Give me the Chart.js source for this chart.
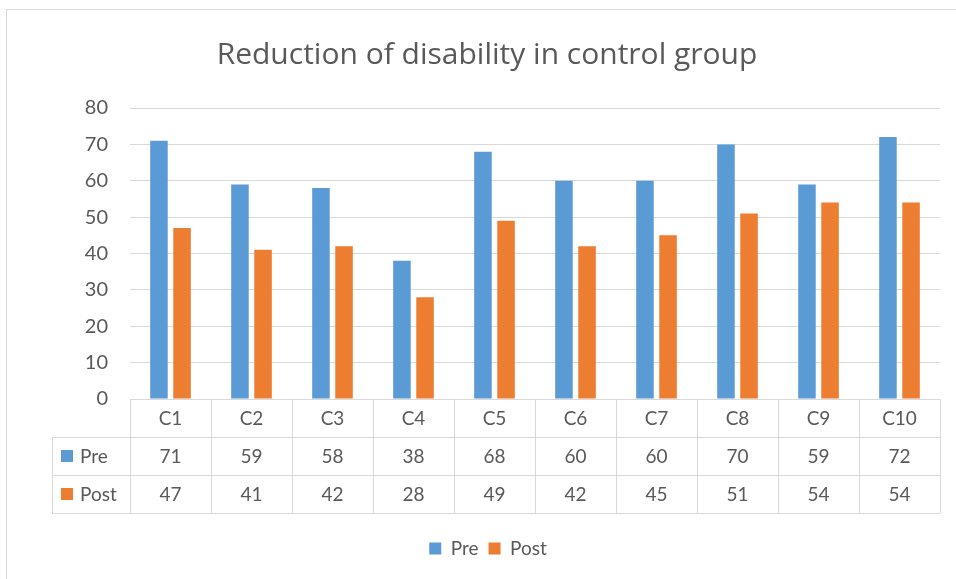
<!DOCTYPE html>
<html>
<head>
<meta charset="utf-8">
<script src="https://cdn.jsdelivr.net/npm/chart.js@4.4.1/dist/chart.umd.min.js"></script>
<style>
  html, body { margin: 0; padding: 0; background: #ffffff; }
  #wrap { position: relative; width: 956px; height: 579px; overflow: hidden; }
  #frame { position: absolute; left: 6px; top: 9px; width: 1000px; height: 1000px;
           border: 1px solid #d9d9d9; box-sizing: border-box; }
  #c { position: absolute; left: 0; top: 0; }
</style>
</head>
<body>
<div id="wrap">
  <div id="frame"></div>
  <canvas id="c" width="956" height="579"></canvas>
</div>
<script>
// Disability scores before and after, per control-group subject
const categories = ['C1', 'C2', 'C3', 'C4', 'C5', 'C6', 'C7', 'C8', 'C9', 'C10'];
const preValues  = [71, 59, 58, 38, 68, 60, 60, 70, 59, 72];
const postValues = [47, 41, 42, 28, 49, 42, 45, 51, 54, 54];
const seriesNames = ['Pre', 'Post'];
const yTickMin = 0;
const yTickMax = 80;
const yTickStep = 10;

const FONT = 'Lato, "Open Sans", sans-serif';
const TITLE_FONT = '"Open Sans", Lato, sans-serif';
const TEXT = '#595959';
const GRID = '#d9d9d9';
const COLORS = ['#5B9BD5', '#ED7D31'];
const TABLE_LEFT = 52;
const ROW_H = 38;

// Data table under the plot: header row of categories, then one row per series
const dataTable = {
  id: 'dataTable',
  afterLayout(chart) {
    // centre title and legend under the framed area rather than the canvas
    chart.titleBlock.left += 17;
    chart.titleBlock.right += 17;
    chart.legend.left += 18;
    chart.legend.right += 18;
  },
  afterDraw(chart) {
    const ctx = chart.ctx;
    const area = chart.chartArea;
    const xs = chart.scales.x;
    const n = categories.length;
    const cw = (area.right - area.left) / n;
    const r0 = area.bottom, r1 = r0 + ROW_H, r2 = r1 + ROW_H, r3 = r2 + ROW_H;
    const vals = [preValues, postValues];

    ctx.save();
    ctx.strokeStyle = GRID;
    ctx.lineWidth = 1;
    ctx.beginPath();
    ctx.moveTo(area.left, r0 + 0.5); ctx.lineTo(area.right, r0 + 0.5);
    [r1, r2, r3].forEach(y => { ctx.moveTo(TABLE_LEFT, y + 0.5); ctx.lineTo(area.right, y + 0.5); });
    for (let i = 0; i <= n; i++) {
      const x = Math.round(area.left + i * cw) + 0.5;
      ctx.moveTo(x, r0); ctx.lineTo(x, r3);
    }
    ctx.moveTo(TABLE_LEFT + 0.5, r1); ctx.lineTo(TABLE_LEFT + 0.5, r3);
    ctx.stroke();

    ctx.fillStyle = TEXT;
    ctx.font = '19px ' + FONT;
    ctx.textAlign = 'center';
    ctx.textBaseline = 'middle';
    categories.forEach((c, i) => {
      const x = xs.getPixelForValue(i);
      ctx.fillText(c, x, (r0 + r1) / 2 + 1);
      ctx.fillText(String(vals[0][i]), x, (r1 + r2) / 2 + 1);
      ctx.fillText(String(vals[1][i]), x, (r2 + r3) / 2 + 1);
    });

    // series keys in the left column
    ctx.textAlign = 'left';
    seriesNames.forEach((name, k) => {
      const yc = k === 0 ? (r1 + r2) / 2 : (r2 + r3) / 2;
      ctx.fillStyle = COLORS[k];
      ctx.fillRect(61, Math.round(yc - 6), 12, 12);
      ctx.fillStyle = TEXT;
      ctx.fillText(name, 80, yc + 1);
    });
    ctx.restore();
  }
};

new Chart(document.getElementById('c'), {
  type: 'bar',
  data: {
    labels: categories,
    datasets: [
      { label: seriesNames[0], data: preValues, backgroundColor: COLORS[0] },
      { label: seriesNames[1], data: postValues, backgroundColor: COLORS[1] }
    ]
  },
  options: {
    responsive: false,
    animation: false,
    devicePixelRatio: 1,
    layout: { padding: { left: 0, right: 16, top: 0, bottom: 11 } },
    datasets: { bar: { barPercentage: 0.76, categoryPercentage: 0.57 } },
    plugins: {
      title: {
        display: true,
        text: 'Reduction of disability in control group',
        color: TEXT,
        font: { family: TITLE_FONT, size: 30, weight: 'normal' },
        padding: { top: 37, bottom: 35 }
      },
      legend: {
        position: 'bottom',
        labels: {
          color: TEXT,
          boxWidth: 12,
          boxHeight: 12,
          padding: 10,
          font: { family: FONT, size: 19 }
        }
      },
      tooltip: { enabled: false }
    },
    scales: {
      x: {
        grid: { display: false },
        border: { display: false },
        ticks: { display: false },
        afterFit(scale) { scale.height = 130; }
      },
      y: {
        min: yTickMin,
        max: yTickMax,
        border: { display: false },
        grid: { color: GRID, drawTicks: false },
        ticks: {
          stepSize: yTickStep,
          padding: 22,
          color: TEXT,
          font: { family: FONT, size: 20 }
        },
        afterFit(scale) { scale.width = 130; }
      }
    }
  },
  plugins: [dataTable]
});
</script>
</body>
</html>
